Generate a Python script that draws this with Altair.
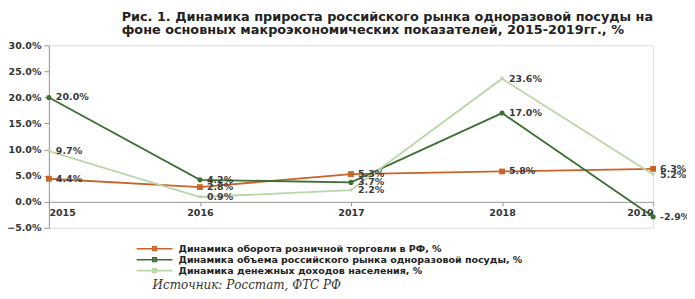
import altair as alt
import pandas as pd

years = [2015, 2016, 2017, 2018, 2019]
series_names = [
    "Динамика оборота розничной торговли в РФ, %",
    "Динамика объема российского рынка одноразовой посуды, %",
    "Динамика денежных доходов населения, %",
]
retail = [4.4, 2.8, 5.3, 5.8, 6.3]
market = [20.0, 4.2, 3.7, 17.0, -2.9]
income = [9.7, 0.9, 2.2, 23.6, 5.2]
colors = ["#C8642A", "#3F6E34", "#B8D6A6"]
shapes = ["square", "circle", "triangle-down"]
sizes = [34, 18, 34]
y_ticks = [-5, 0, 5, 10, 15, 20, 25, 30]
title_lines = [
    "Рис. 1. Динамика прироста российского рынка одноразовой посуды на",
    "фоне основных макроэкономических показателей, 2015-2019гг., %",
]
source_text = "Источник: Росстат, ФТС РФ"

rows = []
for name, vals in zip(series_names, [retail, market, income]):
    for yr, v in zip(years, vals):
        rows.append({"year": yr, "series": name, "marker": name, "value": v,
                     "label": f"{v:.1f}%"})
df = pd.DataFrame(rows)

FONT = "DejaVu Sans"

x_enc = alt.X("year:Q", scale=alt.Scale(domain=[2015, 2019], nice=False, zero=False),
              axis=alt.Axis(values=years, format="d", title=None, offset=-26,
                            labelFont=FONT, labelFontWeight="bold", labelFontSize=9.5,
                            labelColor="#333", domainColor="#999", tickColor="#999",
                            tickSize=4, labelPadding=2, grid=False))
y_enc = alt.Y("value:Q", scale=alt.Scale(domain=[-5, 30], nice=False),
              axis=alt.Axis(values=y_ticks, title=None, grid=False,
                            labelExpr="format(datum.value, '.1f') + '%'",
                            labelFont=FONT, labelFontWeight="bold", labelFontSize=9.5,
                            labelColor="#333", domainColor="#999", tickColor="#999",
                            tickSize=5, labelPadding=3))

color_enc = alt.Color("series:N", scale=alt.Scale(domain=series_names, range=colors),
                      legend=alt.Legend(title=None, orient="none", legendX=100, legendY=198,
                                        labelFont=FONT, labelFontSize=9.5, labelFontWeight="bold",
                                        labelColor="#222", labelLimit=0,
                                        symbolSize=100, symbolStrokeWidth=1.6,
                                        symbolType="M-3.6,0H3.6M-0.36,-0.36H0.36V0.36H-0.36Z",
                                        rowPadding=-1.5, labelOffset=18))

base = alt.Chart(df)
lines = base.mark_line(strokeWidth=1.8).encode(x=x_enc, y=y_enc, color=color_enc)
points = base.mark_point(filled=True, opacity=1).encode(
    x=x_enc, y=y_enc,
    color=alt.Color("marker:N", scale=alt.Scale(domain=series_names, range=colors), legend=None),
    shape=alt.Shape("marker:N", scale=alt.Scale(domain=series_names, range=shapes), legend=None),
    size=alt.Size("marker:N", scale=alt.Scale(domain=series_names, range=sizes), legend=None),
)
texts = base.mark_text(align="left", baseline="middle", dx=7, font=FONT, fontSize=9.5,
                       fontWeight="bold", color="#3a3a3a").encode(x=x_enc, y=y_enc, text="label:N")

title_mark = alt.Chart(pd.DataFrame({"t": [title_lines]})).mark_text(
    align="left", baseline="top", font=FONT, fontSize=12.85, fontWeight="bold",
    color="#222", lineHeight=13).encode(x=alt.value(73), y=alt.value(-34), text="t")

src = alt.Chart(pd.DataFrame({"t": [source_text]})).mark_text(
    align="left", baseline="middle", font="DejaVu Serif", fontStyle="italic",
    fontSize=12, color="#333").encode(x=alt.value(104), y=alt.value(240), text="t:N")

chart = alt.layer(lines, points, texts, title_mark, src).resolve_scale(
    color="independent", shape="independent", size="independent"
).properties(
    width=606, height=183,
    autosize=alt.AutoSizeParams(type="none"),
    padding={"left": 41, "top": 37, "right": 34, "bottom": 63},
).configure_view(stroke=None).configure(background="white")

chart.save("out.html", embed_options={"renderer": "svg", "actions": False})
